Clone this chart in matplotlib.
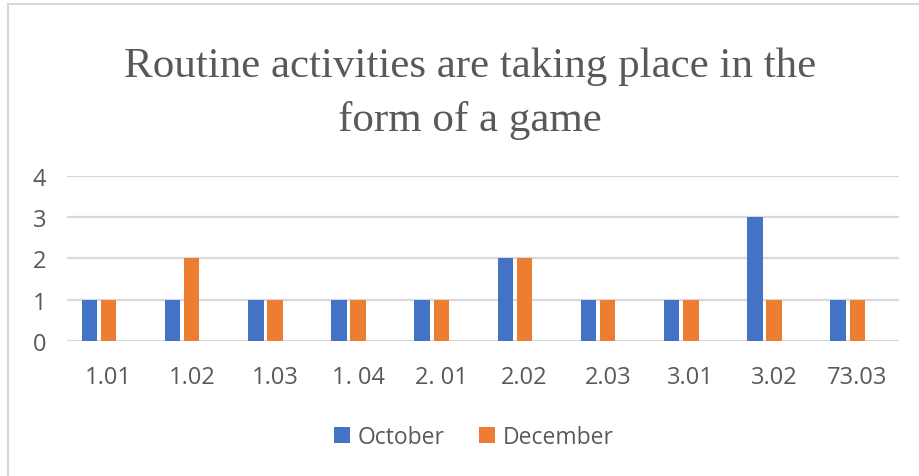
import numpy as np
import matplotlib.pyplot as plt
from matplotlib.patches import Rectangle

# values
categories = ['1.01', '1.02', '1.03', '1. 04', '2. 01', '2.02', '2.03', '3.01', '3.02', '73.03']
october = [1, 1, 1, 1, 1, 2, 1, 1, 3, 1]
december = [1, 2, 1, 1, 1, 2, 1, 1, 1, 1]
series_names = ['October', 'December']
title = 'Routine activities are taking place in the\nform of a game'

blue = '#4472C4'
orange = '#ED7D31'
grey_text = '#595959'
grid_col = '#D9D9D9'

fig = plt.figure(figsize=(9.2, 4.77), dpi=100)
ax = fig.add_axes([0.0728, 0.283, 0.9042, 0.346])

x = np.arange(len(categories))
slot = 0.23
bw = 0.185
ax.bar(x - slot, october, width=bw, color=blue, label=series_names[0], zorder=3)
ax.bar(x, december, width=bw, color=orange, label=series_names[1], zorder=3)

ax.set_xlim(-0.5, len(categories) - 0.5)
ax.set_ylim(0, 4)
ax.set_yticks([0, 1, 2, 3, 4])
ax.set_xticks(x)
ax.set_xticklabels(categories)
ax.yaxis.grid(True, color=grid_col, linewidth=1.6, zorder=0)
ax.set_axisbelow(True)
for s in ax.spines.values():
    s.set_visible(False)
ax.tick_params(length=0, labelsize=17, labelcolor=grey_text)
ax.tick_params(axis='x', pad=17)
ax.tick_params(axis='y', pad=15)
for lab in ax.get_xticklabels() + ax.get_yticklabels():
    lab.set_fontfamily('Open Sans')

fig.text(0.511, 0.803, title, ha='center', va='center', fontsize=31,
         family='Liberation Serif', color=grey_text, linespacing=1.5)

leg = fig.legend(loc='center', bbox_to_anchor=(0.515, 0.082), ncol=2, frameon=False,
                 handlelength=0.7, handleheight=0.7, handletextpad=0.35,
                 columnspacing=1.5, prop={'family': 'Open Sans', 'size': 16.5})
for t in leg.get_texts():
    t.set_color(grey_text)

# light chart-area frame like the source
fig.patches.append(Rectangle((8 / 920, -0.1), 1.2, 1 - 5 / 477 + 0.1,
                             transform=fig.transFigure, fill=False,
                             edgecolor=grid_col, linewidth=1.5))

fig.savefig('out.png', dpi=100)
